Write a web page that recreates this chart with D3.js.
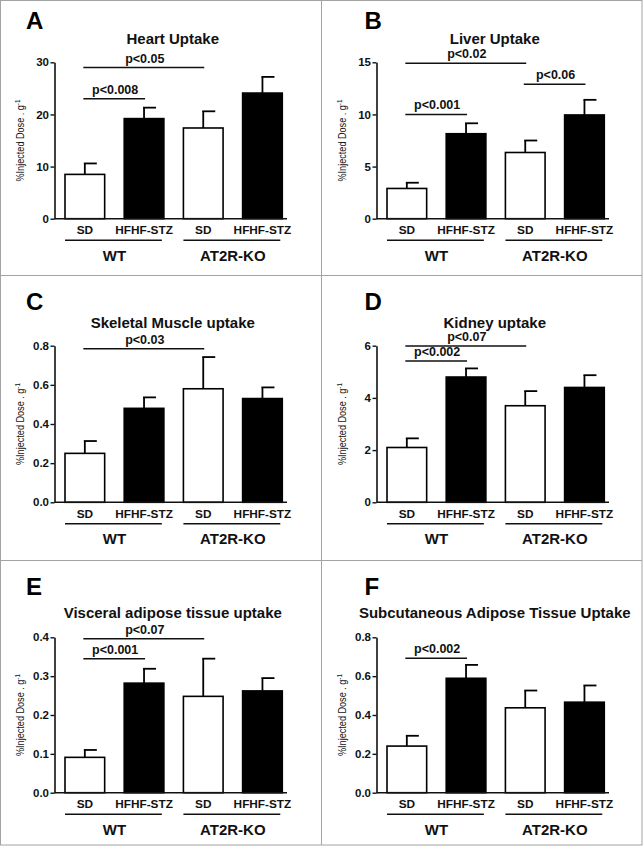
<!DOCTYPE html>
<html>
<head>
<meta charset="utf-8">
<script src="https://cdn.jsdelivr.net/npm/d3@7"></script>
<style>
  html, body { margin: 0; padding: 0; background: #fff; }
  svg { display: block; font-family: "Liberation Sans", Arial, sans-serif; }
</style>
</head>
<body>
<svg id="chart" width="644" height="847"></svg>
<script>
// ---------------- DATA ----------------
const conditions = ["SD", "HFHF-STZ", "SD", "HFHF-STZ"];
const groups = ["WT", "AT2R-KO"];
const panelLetters = ["A", "B", "C", "D", "E", "F"];
const panelTitles = [
  "Heart Uptake",
  "Liver Uptake",
  "Skeletal Muscle uptake",
  "Kidney uptake",
  "Visceral adipose tissue uptake",
  "Subcutaneous Adipose Tissue Uptake"
];
const heartMean  = [8.5, 19.2, 17.4, 24.1];
const heartErr   = [2.1, 2.1, 3.2, 3.1];
const liverMean  = [2.9, 8.15, 6.35, 9.95];
const liverErr   = [0.55, 1.0, 1.15, 1.45];
const muscleMean = [0.25, 0.48, 0.58, 0.53];
const muscleErr  = [0.063, 0.056, 0.162, 0.057];
const kidneyMean = [2.1, 4.8, 3.7, 4.4];
const kidneyErr  = [0.35, 0.33, 0.56, 0.47];
const visceralMean = [0.091, 0.282, 0.248, 0.262];
const visceralErr  = [0.019, 0.037, 0.097, 0.033];
const subcutMean = [0.24, 0.589, 0.437, 0.466];
const subcutErr  = [0.053, 0.069, 0.089, 0.086];

const yMax = [30, 15, 0.8, 6, 0.4, 0.8];
const heartTicks = ["0", "10", "20", "30"];
const liverTicks = ["0", "5", "10", "15"];
const muscleTicks = ["0.0", "0.2", "0.4", "0.6", "0.8"];
const kidneyTicks = ["0", "2", "4", "6"];
const visceralTicks = ["0.0", "0.1", "0.2", "0.3", "0.4"];
const subcutTicks = ["0.0", "0.2", "0.4", "0.6", "0.8"];

// significance brackets: [fromBar, toBar, level, label]
const heartSig = [[0, 2, 29, "p<0.05"], [0, 1, 23, "p<0.008"]];
const liverSig = [[0, 2, 14.9, "p<0.02"], [2, 3, 12.9, "p<0.06"], [0, 1, 10.0, "p<0.001"]];
const muscleSig = [[0, 2, 0.785, "p<0.03"]];
const kidneySig = [[0, 2, 5.99, "p<0.07"], [0, 1, 5.41, "p<0.002"]];
const visceralSig = [[0, 2, 0.396, "p<0.07"], [0, 1, 0.345, "p<0.001"]];
const subcutSig = [[0, 1, 0.692, "p<0.002"]];

const yLabel = "%Injected Dose . g";
const yLabelSup = "-1";

// ---------------- LAYOUT ----------------
const means = [heartMean, liverMean, muscleMean, kidneyMean, visceralMean, subcutMean];
const errs = [heartErr, liverErr, muscleErr, kidneyErr, visceralErr, subcutErr];
const tickSets = [heartTicks, liverTicks, muscleTicks, kidneyTicks, visceralTicks, subcutTicks];
const sigs = [heartSig, liverSig, muscleSig, kidneySig, visceralSig, subcutSig];

const colX = [0, 322];
const rows = [
  { top: 62.3, bottom: 218.7, title: 43.5, letter: 28.5 },
  { top: 345.7, bottom: 502.3, title: 327.5, letter: 310 },
  { top: 637.3, bottom: 792.7, title: 618, letter: 594.7 }
];
const letterX = [26, 364.5];
const ink = "#111";

const svg = d3.select("#chart");

// frame
const frame = svg.append("g").attr("stroke", "#a3a3a3").attr("stroke-width", 1).attr("fill", "none");
frame.append("rect").attr("x", 0.5).attr("y", 0.5).attr("width", 641.5).attr("height", 844.5);
frame.append("line").attr("x1", 321.5).attr("x2", 321.5).attr("y1", 0.5).attr("y2", 845);
frame.append("line").attr("x1", 0.5).attr("x2", 642).attr("y1", 275.5).attr("y2", 275.5);
frame.append("line").attr("x1", 0.5).attr("x2", 642).attr("y1", 560.5).attr("y2", 560.5);

panelLetters.forEach((letter, i) => {
  const col = i % 2, row = Math.floor(i / 2);
  const ox = colX[col];
  const R = rows[row];
  const g = svg.append("g");

  const axisX = ox + 54.5;
  const x = d3.scaleBand()
    .domain(d3.range(conditions.length))
    .range([axisX, ox + 287])
    .paddingInner(0.33)
    .paddingOuter(0.1285)
    .align(0.69);
  const y = d3.scaleLinear().domain([0, yMax[i]]).range([R.bottom, R.top]);

  // letter
  g.append("text").attr("x", letterX[col]).attr("y", R.letter)
    .attr("font-size", 24).attr("font-weight", "bold").attr("fill", "#000").text(letter);

  // title
  g.append("text").attr("x", (axisX + ox + 291) / 2).attr("y", R.title)
    .attr("text-anchor", "middle").attr("font-size", 15).attr("font-weight", "bold")
    .attr("fill", ink).text(panelTitles[i]);

  // y axis
  const tickVals = tickSets[i].map(Number);
  const yAxis = d3.axisLeft(y).tickValues(tickVals)
    .tickFormat((d, k) => tickSets[i][k]).tickSize(4).tickPadding(1.5).tickSizeOuter(0);
  const ya = g.append("g").attr("transform", `translate(${axisX},0)`).call(yAxis);
  ya.select(".domain").attr("stroke", ink).attr("stroke-width", 1.6);
  ya.selectAll(".tick line").attr("stroke", ink).attr("stroke-width", 1.4);
  ya.selectAll(".tick text").attr("fill", ink).attr("font-size", 11.5)
    .attr("font-weight", "bold").attr("font-family", "Liberation Sans, Arial, sans-serif");

  // y label (narrow lettering, forced to reference length)
  const yl = g.append("text")
    .attr("transform", `translate(${ox + 24},${(R.top + R.bottom) / 2}) rotate(-90)`)
    .attr("text-anchor", "middle").attr("font-size", 11.5).attr("fill", ink)
    .attr("textLength", 82).attr("lengthAdjust", "spacingAndGlyphs");
  yl.append("tspan").text(yLabel);
  yl.append("tspan").attr("dy", -4.5).attr("font-size", 8).text(yLabelSup);

  // bars
  const idx = d3.range(conditions.length);
  g.selectAll("rect.bar").data(idx).join("rect")
    .attr("class", "bar")
    .attr("x", k => x(k))
    .attr("y", k => y(means[i][k]))
    .attr("width", x.bandwidth())
    .attr("height", k => y(0) - y(means[i][k]))
    .attr("fill", k => (k % 2 === 0 ? "#fff" : "#000"))
    .attr("stroke", "#000").attr("stroke-width", 1.6);

  // error bars (upper only)
  const capW = 13;
  idx.forEach(k => {
    const cx = x(k) + x.bandwidth() / 2;
    const top = y(means[i][k] + errs[i][k]);
    g.append("line").attr("x1", cx).attr("x2", cx)
      .attr("y1", y(means[i][k])).attr("y2", top)
      .attr("stroke", "#000").attr("stroke-width", 1.8);
    g.append("line").attr("x1", cx - 1).attr("x2", cx - 1 + capW)
      .attr("y1", top).attr("y2", top)
      .attr("stroke", "#000").attr("stroke-width", 1.8);
  });

  // x axis baseline
  g.append("line").attr("x1", axisX).attr("x2", ox + 287)
    .attr("y1", R.bottom).attr("y2", R.bottom)
    .attr("stroke", ink).attr("stroke-width", 1.6);

  // condition labels
  idx.forEach(k => {
    g.append("text").attr("x", x(k) + x.bandwidth() / 2).attr("y", R.bottom + 15.3)
      .attr("text-anchor", "middle").attr("font-size", 11.8).attr("font-weight", "bold")
      .attr("fill", ink).text(conditions[k]);
  });

  // group underlines and labels
  groups.forEach((gr, j) => {
    const a = x(2 * j), b = x(2 * j + 1) + x.bandwidth() - 2;
    g.append("line").attr("x1", a).attr("x2", b)
      .attr("y1", R.bottom + 21.5).attr("y2", R.bottom + 21.5)
      .attr("stroke", ink).attr("stroke-width", 1.4);
    g.append("text").attr("x", (a + b) / 2 + 1).attr("y", R.bottom + 42)
      .attr("text-anchor", "middle").attr("font-size", 15).attr("font-weight", "bold")
      .attr("fill", ink).text(gr);
  });

  // significance brackets
  sigs[i].forEach(([f, t, lvl, lab]) => {
    const x1 = x(f) + x.bandwidth() / 2 - 1.5;
    const x2 = x(t) + x.bandwidth() / 2 + 1;
    const yy = y(lvl);
    g.append("line").attr("x1", x1).attr("x2", x2).attr("y1", yy).attr("y2", yy)
      .attr("stroke", ink).attr("stroke-width", 1.5);
    g.append("text").attr("x", (x1 + x2) / 2 + 1).attr("y", yy - 5)
      .attr("text-anchor", "middle").attr("font-size", 12.5).attr("font-weight", "bold")
      .attr("fill", ink).text(lab);
  });
});
</script>
</body>
</html>
